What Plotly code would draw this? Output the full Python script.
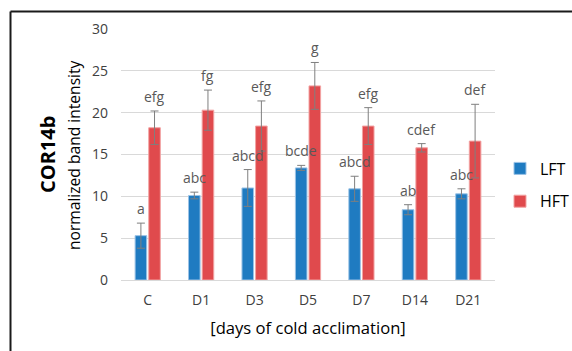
import plotly.graph_objects as go

# Days of cold acclimation
days = ["C", "D1", "D3", "D5", "D7", "D14", "D21"]

# LFT: mean and error
lft_mean = [5.3, 10.1, 11.0, 13.4, 10.9, 8.4, 10.3]
lft_err = [1.5, 0.4, 2.2, 0.3, 1.5, 0.6, 0.6]
lft_letters = ["a", "abc", "abcd", "bcde", "abcd", "ab", "abc"]

# HFT: mean and error
hft_mean = [18.2, 20.3, 18.4, 23.2, 18.4, 15.8, 16.6]
hft_err = [2.0, 2.4, 3.0, 2.8, 2.2, 0.5, 4.4]
hft_letters = ["efg", "fg", "efg", "g", "efg", "cdef", "def"]

y_ticks = [0, 5, 10, 15, 20, 25, 30]

FONT = "Open Sans"
TEXT = "#404040"
BLUE = "#1f7bc1"
RED = "#e04a4d"

W, H = 572, 351
ML, MR, MT, MB = 121, 77, 29, 71
PW, PH = W - ML - MR, H - MT - MB

fig = go.Figure()

series = [
    ("LFT", lft_mean, lft_err, lft_letters, BLUE, "#9cc3e6"),
    ("HFT", hft_mean, hft_err, hft_letters, RED, "#f2a3a3"),
]
for name, mean, err, _, color, edge in series:
    fig.add_trace(go.Bar(
        name=name, x=days, y=mean, legendgroup=name,
        marker=dict(color=color, line=dict(color=edge, width=1)),
        error_y=dict(type="data", array=err, visible=True,
                     color="#7f7f7f", thickness=1, width=4),
    ))

# significance letters above each error bar
bargap = 0.49
slot = PW / len(days) * (1 - bargap) / 2
for i, (name, mean, err, letters, _, _) in enumerate(series):
    shift = (i - 0.5) * slot
    for d, m, e, t in zip(days, mean, err, letters):
        fig.add_annotation(
            x=d, y=m + e, xref="x", yref="y", text=t, showarrow=False,
            xshift=shift, yanchor="bottom", yshift=3,
            font=dict(family=FONT, size=14, color="#595959"),
        )

# y-axis titles
x_px = lambda px: (px - ML) / PW
y_px = lambda px: (H - MB - px) / PH
fig.add_annotation(
    x=x_px(47), y=y_px(155), xref="paper", yref="paper", text="<b>COR14b</b>",
    textangle=-90, showarrow=False, xanchor="center", yanchor="middle",
    font=dict(family=FONT, size=20, color="#000000"),
)
fig.add_annotation(
    x=x_px(74), y=y_px(155), xref="paper", yref="paper",
    text="normalized band intensity",
    textangle=-90, showarrow=False, xanchor="center", yanchor="middle",
    font=dict(family=FONT, size=15.6, color="#000000"),
)

# outer frame lines (top and left)
fig.add_shape(type="line", xref="paper", yref="paper",
              x0=x_px(10.5), x1=x_px(W + 5), y0=y_px(11.5), y1=y_px(11.5),
              line=dict(color="#1a1a1a", width=2))
fig.add_shape(type="line", xref="paper", yref="paper",
              x0=x_px(10.5), x1=x_px(10.5), y0=y_px(11.5), y1=y_px(H + 5),
              line=dict(color="#1a1a1a", width=2))

fig.update_layout(
    width=W, height=H,
    margin=dict(l=ML, r=MR, t=MT, b=MB, autoexpand=False),
    paper_bgcolor="white", plot_bgcolor="white",
    barmode="group", bargap=bargap, bargroupgap=0.15,
    font=dict(family=FONT, size=14, color=TEXT),
    legend=dict(
        x=x_px(500), y=y_px(185), xanchor="left", yanchor="middle",
        font=dict(family=FONT, size=16, color="#000000"),
        tracegroupgap=9, bgcolor="rgba(0,0,0,0)",
    ),
    xaxis=dict(
        showgrid=False, showline=False, ticks="", ticklabelstandoff=10,
        tickfont=dict(family=FONT, size=14, color=TEXT),
        title=dict(text="[days of cold acclimation]", standoff=14,
                   font=dict(family=FONT, size=16.6, color="#000000")),
    ),
    yaxis=dict(
        range=[0, 30], tickvals=y_ticks, showline=False, ticks="",
        showgrid=True, gridcolor="#d9d9d9", gridwidth=1,
        zeroline=True, zerolinecolor="#d9d9d9", zerolinewidth=1,
        ticklabelstandoff=12,
        tickfont=dict(family=FONT, size=14, color=TEXT),
    ),
)

fig.write_html("out.html")
